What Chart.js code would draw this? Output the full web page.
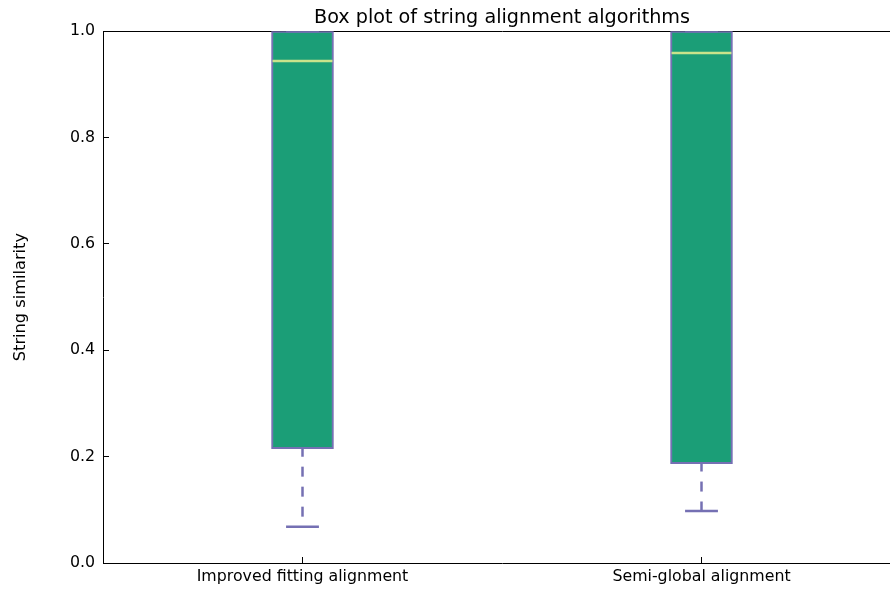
<!DOCTYPE html>
<html>
<head>
<meta charset="utf-8">
<script src="https://cdn.jsdelivr.net/npm/chart.js@4/dist/chart.umd.min.js"></script>
<style>
  html, body { margin: 0; padding: 0; overflow: hidden; background: #fff; }
  canvas { display: block; }
</style>
</head>
<body>
<canvas id="c" width="910" height="590"></canvas>
<script>
// ---- data ----
const categories = ['Improved fitting alignment', 'Semi-global alignment'];
const q1 = [0.215, 0.187];
const median = [0.944, 0.959];
const q3 = [1.0, 1.0];
const whiskerLow = [0.068, 0.098];
const whiskerHigh = [1.0, 1.0];
const yTicks = [0.0, 0.2, 0.4, 0.6, 0.8, 1.0];

const titleText = 'Box plot of string alignment algorithms';
const yTitle = 'String similarity';

// ---- styles ----
const FONT = 'DejaVu Sans';
const boxFill = '#1b9e77';
const edgeColor = '#7570b3';
const medianColor = '#c9e38b';

const boxExtras = {
  id: 'boxExtras',
  afterDatasetsDraw(chart) {
    const meta = chart.getDatasetMeta(0);
    const ys = chart.scales.y;
    const ctx = chart.ctx;
    const a = chart.chartArea;
    ctx.save();
    ctx.beginPath();
    ctx.rect(a.left, a.top, a.right - a.left, a.bottom - a.top);
    ctx.clip();
    meta.data.forEach((bar, i) => {
      const cx = bar.x;
      const half = bar.width / 2;
      // whiskers (dashed)
      ctx.strokeStyle = edgeColor;
      ctx.lineWidth = 2.5;
      ctx.lineCap = 'butt';
      ctx.setLineDash([10, 10]);
      ctx.lineDashOffset = 2;
      ctx.beginPath();
      ctx.moveTo(cx, ys.getPixelForValue(q1[i]));
      ctx.lineTo(cx, ys.getPixelForValue(whiskerLow[i]));
      ctx.stroke();
      ctx.beginPath();
      ctx.moveTo(cx, ys.getPixelForValue(q3[i]));
      ctx.lineTo(cx, ys.getPixelForValue(whiskerHigh[i]));
      ctx.stroke();
      // caps
      ctx.setLineDash([]);
      const capHalf = half * 0.53;
      [whiskerLow[i], whiskerHigh[i]].forEach(v => {
        const py = ys.getPixelForValue(v);
        ctx.beginPath();
        ctx.moveTo(cx - capHalf, py);
        ctx.lineTo(cx + capHalf, py);
        ctx.stroke();
      });
      // median
      ctx.strokeStyle = medianColor;
      ctx.lineWidth = 2.5;
      const my = ys.getPixelForValue(median[i]);
      ctx.beginPath();
      ctx.moveTo(cx - half + 1, my);
      ctx.lineTo(cx + half - 1, my);
      ctx.stroke();
    });
    ctx.restore();
  }
};

const tickFont = { family: FONT, size: 15.8, lineHeight: 1.2 };
const inwardGrid = {
  display: true, drawOnChartArea: false, drawTicks: true,
  tickLength: -6, color: '#000', lineWidth: 1, offset: false
};
const spine = { display: true, color: '#000', width: 1 };

new Chart(document.getElementById('c'), {
  type: 'bar',
  data: {
    labels: categories,
    datasets: [{
      data: categories.map((_, i) => [q1[i], q3[i]]),
      backgroundColor: boxFill,
      borderColor: edgeColor,
      borderWidth: 2,
      borderSkipped: false,
      barThickness: 62
    }]
  },
  options: {
    responsive: false,
    animation: false,
    devicePixelRatio: 1,
    layout: { padding: 0 },
    plugins: {
      legend: { display: false },
      tooltip: { enabled: false },
      title: {
        display: true,
        text: titleText,
        fullSize: false,
        color: '#000',
        font: { family: FONT, size: 19.2, weight: 'normal', lineHeight: 1 },
        padding: { top: 8, bottom: 0 }
      }
    },
    scales: {
      x: {
        type: 'category',
        position: 'bottom',
        offset: true,
        z: 1,
        grid: inwardGrid,
        border: spine,
        ticks: { color: '#000', font: tickFont, padding: 10, maxRotation: 0, autoSkip: false },
        afterFit(s) { s.height = 27; }
      },
      xTop: {
        type: 'category',
        position: 'top',
        labels: categories,
        offset: true,
        z: 1,
        grid: inwardGrid,
        border: spine,
        ticks: { display: false },
        afterFit(s) { s.height = 4; }
      },
      y: {
        type: 'linear',
        position: 'left',
        min: 0, max: 1,
        z: 1,
        grid: inwardGrid,
        border: spine,
        afterBuildTicks(s) { s.ticks = yTicks.map(v => ({ value: v })); },
        ticks: { color: '#000', font: tickFont, padding: 14, callback: v => Number(v).toFixed(1) },
        title: {
          display: true, text: yTitle, color: '#000',
          font: { family: FONT, size: 16.2, lineHeight: 1.2 },
          padding: { top: 11, bottom: 0 }
        },
        afterFit(s) { s.width = 103; }
      },
      yRight: {
        type: 'linear',
        position: 'right',
        min: 0, max: 1,
        z: 1,
        grid: inwardGrid,
        border: spine,
        afterBuildTicks(s) { s.ticks = yTicks.map(v => ({ value: v })); },
        ticks: { display: false },
        afterFit(s) { s.width = 9; }
      }
    }
  },
  plugins: [boxExtras]
});
</script>
</body>
</html>
